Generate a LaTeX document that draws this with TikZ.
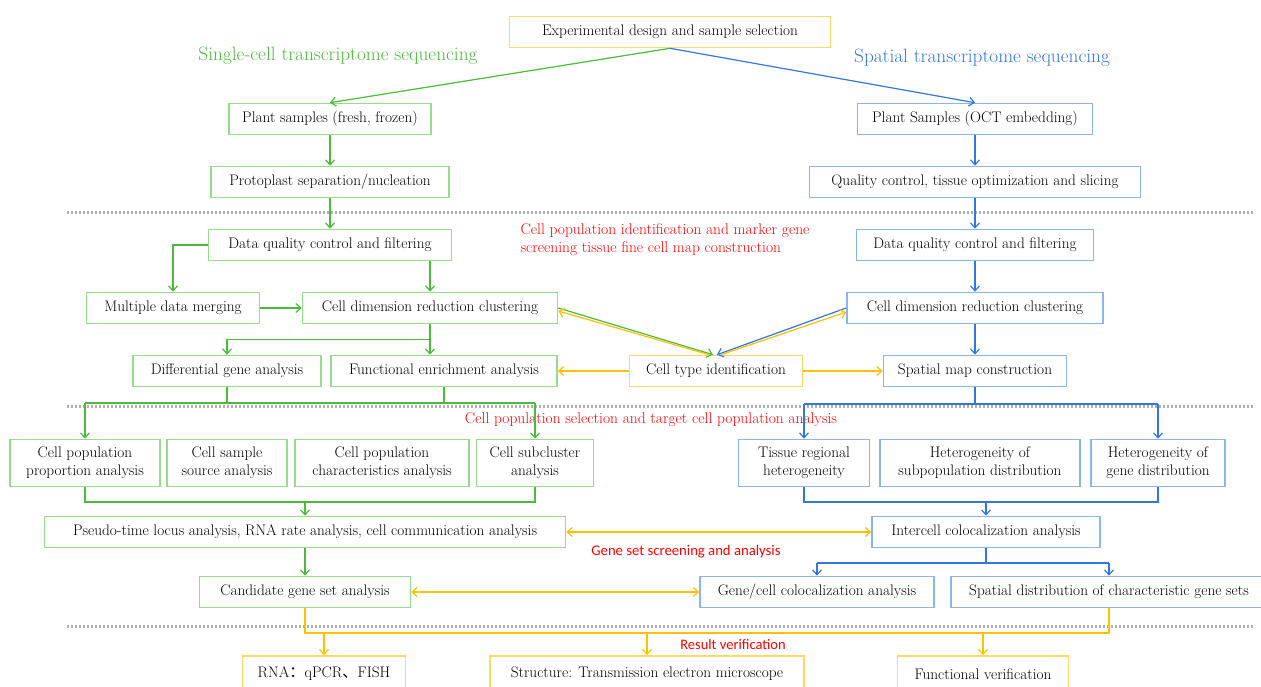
\documentclass[tikz,border=0pt]{standalone}
\usepackage{fontspec}
\newfontfamily\labelsans{Carlito}
\newfontfamily\cjk{Noto Sans CJK SC}
\usetikzlibrary{arrows.meta,calc}
\definecolor{scGreen}{RGB}{76,187,60}
\definecolor{scGreenBox}{RGB}{150,220,140}
\definecolor{stBlue}{RGB}{50,120,220}
\definecolor{stBlueBox}{RGB}{140,180,240}
\definecolor{vfYellow}{RGB}{255,192,0}
\definecolor{vfYellowBox}{RGB}{255,217,102}
\definecolor{stageRed}{RGB}{255,0,0}
\definecolor{sepGray}{RGB}{175,175,175}
\tikzset{
    flowBase/.style={
        rectangle,
        draw,
        line width=1.6pt,
        minimum height=31pt,
        inner sep=2pt,
        align=center,
        font=\fontsize{15.3}{18}\selectfont
    },
    % Semantic variants
    scBox/.style={flowBase, draw=scGreenBox},
    stBox/.style={flowBase, draw=stBlueBox},
    vfBox/.style={flowBase, draw=vfYellowBox},
    twoLine/.style={minimum height=47pt},
    % Arrows and lines
    flowArrowBase/.style={->, >={Straight Barb[length=5pt,width=9pt]}, line width=1.2pt},
    scArrow/.style={flowArrowBase, draw=scGreen},
    stArrow/.style={flowArrowBase, draw=stBlue},
    vfArrow/.style={flowArrowBase, draw=vfYellow},
    scLine/.style={draw=scGreen, line width=1.2pt},
    stLine/.style={draw=stBlue, line width=1.2pt},
    vfLine/.style={draw=vfYellow, line width=1.2pt},
    % Labels
    stageLabel/.style={text=stageRed, font=\fontsize{15.5}{18}\selectfont},
    stageSans/.style={text=stageRed, font=\labelsans\fontsize{14.7}{16}\selectfont},
    sepLine/.style={draw=sepGray, line width=3pt, dash pattern=on 2pt off 2pt}
}
\begin{document}
\begin{tikzpicture}[x=1pt, y=-1pt]
    \useasboundingbox (0,0) rectangle (1261,686);
    % separators
    \foreach \yy in {212,406,626}
        \draw[sepLine] (67,\yy) -- (1255,\yy);

    \node[vfBox, minimum width=321] (design) at (670,32) {Experimental design and sample selection};
    \node[text=scGreen, font=\fontsize{19.3}{20}\selectfont] (scTitle) at (338,56) {Single-cell transcriptome sequencing};
    \node[text=stBlue, font=\fontsize{19.3}{20}\selectfont] (stTitle) at (982,58) {Spatial transcriptome sequencing};

    \node[scBox, minimum width=202] (scSample) at (330,119) {Plant samples (fresh, frozen)};
    \node[scBox, minimum width=238] (scProto) at (330,182) {Protoplast separation/nucleation};
    \node[stBox, minimum width=235] (stSample) at (975,119) {Plant Samples (OCT embedding)};
    \node[stBox, minimum width=331] (stSlice) at (975,182) {Quality control, tissue optimization and slicing};

    \node[scBox, minimum width=243] (scQC) at (330,245) {Data quality control and filtering};
    \node[stBox, minimum width=237] (stQC) at (975,245) {Data quality control and filtering};
    \node[stageLabel, align=left] (idLabel) at (665,240) {Cell population identification and marker gene\\screening tissue fine cell map construction};

    \node[scBox, minimum width=173] (scMerge) at (173,308) {Multiple data merging};
    \node[scBox, minimum width=255] (scDim) at (430,308) {Cell dimension reduction clustering};
    \node[stBox, minimum width=256] (stDim) at (975,308) {Cell dimension reduction clustering};

    \node[scBox, minimum width=188] (scDiff) at (227,371) {Differential gene analysis};
    \node[scBox, minimum width=226] (scFunc) at (444,371) {Functional enrichment analysis};
    \node[vfBox, minimum width=173] (cellType) at (716,371) {Cell type identification};
    \node[stBox, minimum width=183] (stMap) at (975,371) {Spatial map construction};

    \node[stageLabel] (selLabel) at (651,420) {Cell population selection and target cell population analysis};

    \node[scBox, twoLine, minimum width=150] (scProp) at (85,463) {Cell population\\proportion analysis};
    \node[scBox, twoLine, minimum width=120] (scSource) at (227,463) {Cell sample\\source analysis};
    \node[scBox, twoLine, minimum width=174] (scChar) at (382,463) {Cell population\\characteristics analysis};
    \node[scBox, twoLine, minimum width=117] (scSub) at (535,463) {Cell subcluster\\analysis};
    \node[stBox, twoLine, minimum width=131] (stTissue) at (804,463) {Tissue regional\\heterogeneity};
    \node[stBox, twoLine, minimum width=200] (stSubpop) at (980,463) {Heterogeneity of\\subpopulation distribution};
    \node[stBox, twoLine, minimum width=134] (stGene) at (1158,463) {Heterogeneity of\\gene distribution};

    \node[scBox, minimum width=521] (scPseudo) at (305,532) {Pseudo-time locus analysis, RNA rate analysis, cell communication analysis};
    \node[stBox, minimum width=228] (stInter) at (986,532) {Intercell colocalization analysis};
    \node[stageSans] (geneLabel) at (686,552) {Gene set screening and analysis};

    \node[scBox, minimum width=211] (scCand) at (305,592) {Candidate gene set analysis};
    \node[stBox, minimum width=234] (stColoc) at (817,592) {Gene/cell colocalization analysis};
    \node[stBox, minimum width=316] (stDist) at (1109,592) {Spatial distribution of characteristic gene sets};

    \node[stageSans, font=\labelsans\fontsize{14.5}{16}\selectfont] (verLabel) at (733,645) {Result verification};
    \node[vfBox, minimum height=36, minimum width=163] (vfRNA) at (324,674) {RNA{\cjk ：}qPCR{\cjk 、}FISH};
    \node[vfBox, minimum height=36, minimum width=314] (vfStruct) at (647,674) {Structure: Transmission electron microscope};
    \node[vfBox, minimum height=36, minimum width=171] (vfFunc) at (983,674) {Functional verification};

    % single-cell branch
    \draw[scArrow] (design.south) -- (scSample.north);
    \draw[scArrow] (scSample) -- (scProto);
    \draw[scArrow] (scProto) -- (scQC);
    \draw[scArrow] (scQC.west) -| (scMerge.north);
    \draw[scArrow] (scQC.south -| scDim.north) -- (scDim.north);
    \draw[scArrow] (scMerge) -- (scDim);
    \draw[scArrow] (scDim.south) -- (scDim.south |- scFunc.north);
    \coordinate (scFork) at ($(scDim.south)!0.5!(scDim.south |- scFunc.north)$);
    \draw[scArrow] (scFork) -| (scDiff.north);

    \coordinate (scBusA) at (0,403);
    \draw[scLine] (scDiff.south) -- (scDiff.south |- scBusA);
    \draw[scLine] (scFunc.south) -- (scFunc.south |- scBusA);
    \draw[scLine] (scProp.north |- scBusA) -- (scSub.north |- scBusA);
    \draw[scArrow] (scProp.north |- scBusA) -- (scProp.north);
    \draw[scArrow] (scSub.north |- scBusA) -- (scSub.north);
    \coordinate (scBusB) at (0,502);
    \draw[scLine] (scProp.south) |- (scBusB -| scSub.south) -- (scSub.south);
    \draw[scArrow] (scBusB -| scPseudo.north) -- (scPseudo.north);
    \draw[scArrow] (scPseudo) -- (scCand);

    % spatial branch
    \draw[stArrow] (design.south) -- (stSample.north);
    \draw[stArrow] (stSample) -- (stSlice);
    \draw[stArrow] (stSlice) -- (stQC);
    \draw[stArrow] (stQC) -- (stDim);
    \draw[stArrow] (stDim) -- (stMap);
    \coordinate (stBusA) at (0,404);
    \draw[stLine] (stMap.south) -- (stMap.south |- stBusA);
    \draw[stLine] (stTissue.north |- stBusA) -- (stGene.north |- stBusA);
    \draw[stArrow] (stTissue.north |- stBusA) -- (stTissue.north);
    \draw[stArrow] (stGene.north |- stBusA) -- (stGene.north);
    \coordinate (stBusB) at (0,502);
    \draw[stLine] (stTissue.south) |- (stBusB -| stGene.south) -- (stGene.south);
    \draw[stArrow] (stBusB -| stInter.north) -- (stInter.north);
    \coordinate (stBusC) at (0,563);
    \draw[stLine] (stInter.south) -- (stInter.south |- stBusC);
    \draw[stLine] (stColoc.north |- stBusC) -- (stDist.north |- stBusC);
    \draw[stArrow] (stColoc.north |- stBusC) -- (stColoc.north);
    \draw[stArrow] (stDist.north |- stBusC) -- (stDist.north);

    % cell type identification links
    \draw[scArrow] (scDim.east) -- ([xshift=-3pt]cellType.north);
    \draw[vfArrow] ([xshift=-7pt]cellType.north) -- ([yshift=-3pt]scDim.east);
    \draw[stArrow] (stDim.west) -- ([xshift=1pt]cellType.north);
    \draw[vfArrow] ([xshift=5pt]cellType.north) -- ([yshift=-4pt]stDim.west);
    \draw[vfArrow] (cellType) -- (scFunc);
    \draw[vfArrow] (cellType) -- (stMap);

    % gene sets and verification
    \draw[vfArrow, <->] (scPseudo) -- (stInter);
    \draw[vfArrow, <->] (scCand) -- (stColoc);
    \coordinate (vfBus) at (0,633);
    \draw[vfLine] (scCand.south) |- (vfBus -| stDist.south) -- (stDist.south);
    \foreach \n in {vfRNA, vfStruct, vfFunc}
        \draw[vfArrow] (vfBus -| \n.north) -- (\n.north);
\end{tikzpicture}
\end{document}
